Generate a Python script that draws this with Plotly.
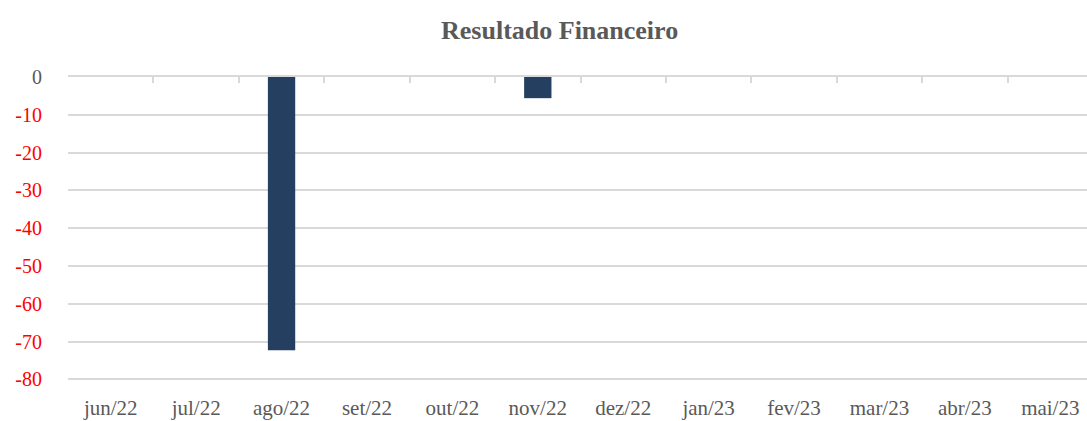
import plotly.graph_objects as go

categories = ["jun/22", "jul/22", "ago/22", "set/22", "out/22", "nov/22",
              "dez/22", "jan/23", "fev/23", "mar/23", "abr/23", "mai/23"]
values = [0, 0, -72.3, 0, 0, -5.6, 0, 0, 0, 0, 0, 0]
y_ticks = [0, -10, -20, -30, -40, -50, -60, -70, -80]

def fmt(v):
    if v < 0:
        return f'<span style="color:#FF0000">{v}</span>'
    return str(v)

font_family = "Liberation Serif"
xr = [-0.5, len(categories) - 0.5]

fig = go.Figure()
fig.add_trace(go.Bar(x=categories, y=values, marker=dict(color="#243F60", line=dict(width=0)),
                     width=0.32, showlegend=False))
fig.add_trace(go.Scatter(x=categories, y=[None]*len(categories), xaxis="x2", mode="markers",
                         showlegend=False, hoverinfo="skip"))

fig.update_layout(
    width=1093, height=421,
    margin=dict(l=68, r=0, t=77, b=40, autoexpand=False),
    paper_bgcolor="white", plot_bgcolor="white",
    title=dict(text="<b>Resultado Financeiro</b>", x=0.512, xanchor="center", y=0.929, yanchor="middle",
               font=dict(family=font_family, size=26, color="#595959")),
    font=dict(family=font_family, size=20, color="#595959"),
    xaxis=dict(type="category", categoryorder="array", categoryarray=categories, range=xr,
               automargin=False, showgrid=False, showline=False, ticks="", ticklabelstandoff=12,
               tickfont=dict(family=font_family, size=21, color="#595959")),
    xaxis2=dict(type="category", categoryorder="array", categoryarray=categories, range=xr,
                overlaying="x", side="top", showticklabels=False, showgrid=False, automargin=False,
                showline=True, linecolor="#D9D9D9", linewidth=2,
                ticks="inside", tickson="boundaries", ticklen=6, tickcolor="#D9D9D9", tickwidth=2),
    yaxis=dict(range=[-80.4, 0], tickvals=y_ticks, ticktext=[fmt(v) for v in y_ticks],
               automargin=False, showgrid=True, gridcolor="#D9D9D9", gridwidth=1.5, zeroline=False,
               ticks="", ticklabelstandoff=25,
               tickfont=dict(family=font_family, size=20, color="#595959")),
    bargap=0.68,
)
fig.write_html("out.html", config={"displayModeBar": False},
               post_script="document.body.style.margin='0';document.body.style.overflow='hidden';"
                           "document.documentElement.style.overflow='hidden';")
